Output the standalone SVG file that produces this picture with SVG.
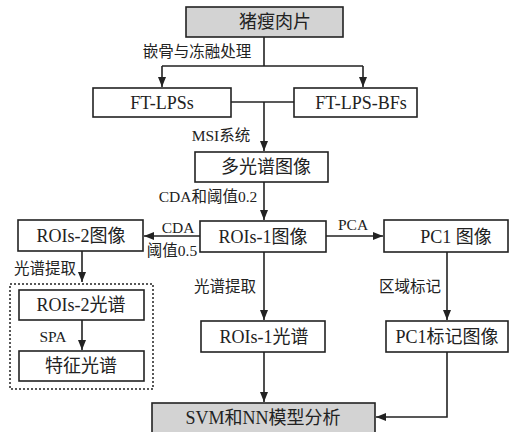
<svg xmlns="http://www.w3.org/2000/svg" width="509" height="432" viewBox="0 0 509 432">
<style>
.box{fill:#fff;stroke:#222;stroke-width:1.6}
.gray{fill:#d3d3d3;stroke:#222;stroke-width:1.6}
.dash{fill:none;stroke:#222;stroke-width:1.5;stroke-dasharray:2 2}
.t{font-family:"Liberation Serif","Noto Sans CJK SC",serif;font-size:18px;fill:#222;text-anchor:middle}
.l{font-family:"Liberation Serif","Noto Sans CJK SC",serif;font-size:15.5px;fill:#222;text-anchor:middle}
.c{fill:none;stroke:#222;stroke-width:1.6}
</style>
<defs>
<marker id="ah" viewBox="0 0 10 8" refX="10" refY="4" markerWidth="10" markerHeight="8" markerUnits="userSpaceOnUse" orient="auto">
<path d="M0,0 L10,4 L0,8 Z" fill="#222"/>
</marker>
</defs>
<rect width="509" height="432" fill="#fff"/>
<g id="connectors">
<path class="c" d="M264,37 V66 M162,66 H363"/>
<path class="c" d="M162,66 V87" marker-end="url(#ah)"/>
<path class="c" d="M363,66 V87" marker-end="url(#ah)"/>
<path class="c" d="M231,102 H294"/>
<path class="c" d="M264,102 V151" marker-end="url(#ah)"/>
<path class="c" d="M264,182 V220" marker-end="url(#ah)"/>
<path class="c" d="M200,236 H144" marker-end="url(#ah)"/>
<path class="c" d="M326,236 H383" marker-end="url(#ah)"/>
<path class="c" d="M82,251 V282" marker-end="url(#ah)"/>
<path class="c" d="M82,320 V350" marker-end="url(#ah)"/>
<path class="c" d="M264,252 V320" marker-end="url(#ah)"/>
<path class="c" d="M447,252 V320" marker-end="url(#ah)"/>
<path class="c" d="M264,352 V402" marker-end="url(#ah)"/>
<path class="c" d="M447,352 V417 H376" marker-end="url(#ah)"/>
</g>
<g id="labels">
<text class="l" x="197" y="57">嵌骨与冻融处理</text>
<text class="l" x="221" y="141">MSI系统</text>
<text class="l" x="208" y="202">CDA和阈值0.2</text>
<text class="l" x="178" y="233">CDA</text>
<text class="l" x="172" y="256">阈值0.5</text>
<text class="l" x="353" y="230">PCA</text>
<text class="l" x="45" y="274">光谱提取</text>
<text class="l" x="225" y="292">光谱提取</text>
<text class="l" x="410" y="292">区域标记</text>
<text class="l" x="53" y="342">SPA</text>
</g>
<g id="n-pork"><rect class="gray" x="186" y="7" width="157" height="30"/><text class="t" x="275" y="28">猪瘦肉片</text></g>
<g id="n-ftlpss"><rect class="box" x="93" y="88" width="138" height="29"/><text class="t" x="162" y="109">FT-LPSs</text></g>
<g id="n-ftlpsbfs"><rect class="box" x="294" y="88" width="123" height="29"/><text class="t" x="361" y="109">FT-LPS-BFs</text></g>
<g id="n-msi"><rect class="box" x="195" y="152" width="133" height="30"/><text class="t" x="266" y="173">多光谱图像</text></g>
<g id="n-rois1"><rect class="box" x="200" y="221" width="126" height="31"/><text class="t" x="263" y="243">ROIs-1图像</text></g>
<g id="n-rois2"><rect class="box" x="18" y="220" width="125" height="31"/><text class="t" x="81" y="242">ROIs-2图像</text></g>
<g id="n-pc1"><rect class="box" x="384" y="220" width="124" height="32"/><text class="t" x="456" y="243">PC1 图像</text></g>
<g id="n-group"><rect class="dash" x="10" y="284" width="143" height="105"/></g>
<g id="n-rois2spec"><rect class="box" x="19" y="290" width="125" height="30"/><text class="t" x="81" y="311">ROIs-2光谱</text></g>
<g id="n-feat"><rect class="box" x="19" y="351" width="125" height="30"/><text class="t" x="81" y="372">特征光谱</text></g>
<g id="n-rois1spec"><rect class="box" x="201" y="321" width="124" height="31"/><text class="t" x="264" y="343">ROIs-1光谱</text></g>
<g id="n-pc1mark"><rect class="box" x="386" y="321" width="122" height="31"/><text class="t" x="447" y="343">PC1标记图像</text></g>
<g id="n-svm"><rect class="gray" x="152" y="403" width="223" height="32"/><text class="t" x="263" y="424">SVM和NN模型分析</text></g>
</svg>
